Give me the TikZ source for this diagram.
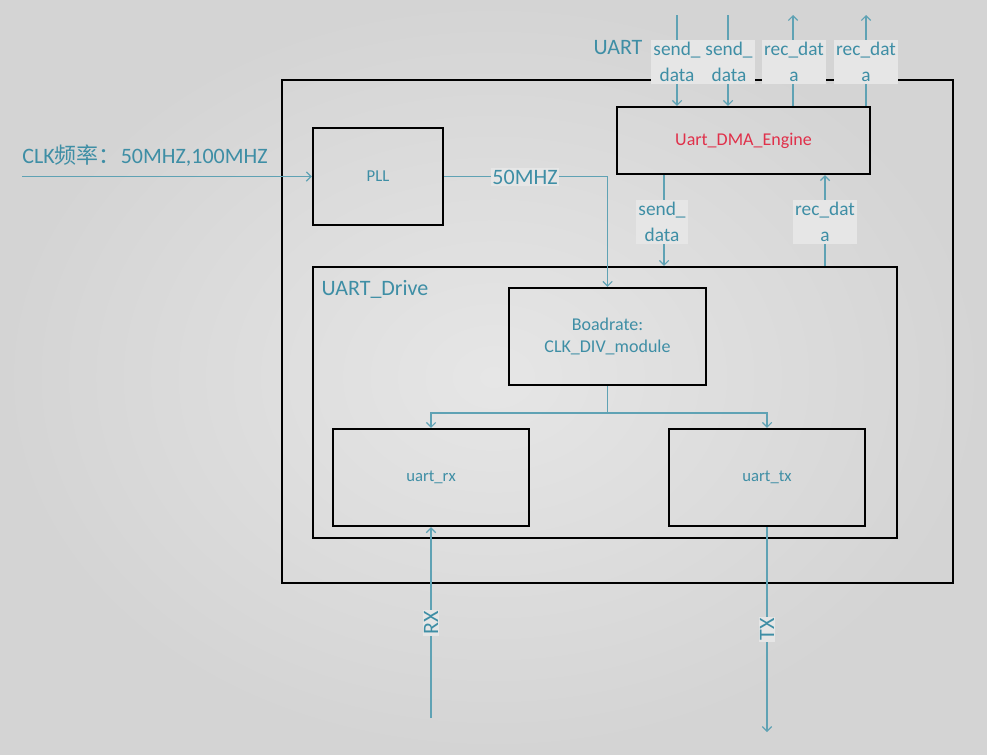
\documentclass[tikz,border=0pt]{standalone}
\usepackage{fontspec}
\setmainfont{Carlito}
\newfontfamily\cjkfont{Noto Sans CJK SC}
\usetikzlibrary{arrows.meta}
\definecolor{bgin}{HTML}{E6E6E6}
\definecolor{bgout}{HTML}{D4D4D4}
\definecolor{tealtxt}{HTML}{3E8EA5}
\definecolor{tealline}{HTML}{5FA2B4}
\definecolor{labbg}{HTML}{E6E6E6}
\definecolor{redtxt}{HTML}{E0304A}
\begin{document}
\begin{tikzpicture}[x=0.75pt,y=-0.75pt,
  box/.style={draw=black, line width=1.6pt, fill=none, inner sep=0pt, text=tealtxt, align=center},
  conn/.style={draw=tealline, line width=0.9pt},
  arr/.style={conn, -{Straight Barb[length=3.5pt,width=7pt]}},
  lab/.style={fill=labbg, text=tealtxt, font=\fontsize{14.5}{19.5}\selectfont, align=center, inner sep=1.5pt},
  bigtxt/.style={text=tealtxt, font=\fontsize{16.5}{19}\selectfont, inner sep=0pt}]
\useasboundingbox (0,0) rectangle (987,754);
\shade[inner color=bgin, outer color=bgout] (0,0) rectangle (987,754);

% boxes
\node[box, minimum width=503.25pt, minimum height=377.25pt] (outer) at (617.5,331.5) {};
\node[box, minimum width=97.5pt, minimum height=72.75pt, font=\fontsize{12.5}{14}\selectfont] (pll) at (378,176.5) {PLL};
\node[box, minimum width=189.75pt, minimum height=50.25pt, text=redtxt, font=\fontsize{13.5}{15}\selectfont] (dma) at (743.5,140.5) {Uart\_DMA\_Engine};
\node[box, minimum width=438pt, minimum height=203.25pt] (drive) at (605,402.5) {};
\node[box, minimum width=147.75pt, minimum height=72.75pt, font=\fontsize{13.5}{16.5}\selectfont] (boad) at (607.5,336.5) {Boadrate:\\CLK\_DIV\_module};
\node[box, minimum width=147pt, minimum height=72.75pt, font=\fontsize{12.5}{14}\selectfont] (rx) at (431,477.5) {uart\_rx};
\node[box, minimum width=147pt, minimum height=72.75pt, font=\fontsize{12.5}{14}\selectfont] (tx) at (767,477.5) {uart\_tx};

\node[bigtxt] (drivelab) at (375,289) {UART\_Drive};
\node[bigtxt] (uartlab) at (618,48) {UART};

% clock input
\coordinate (clkin) at (22,176.5);
\draw[arr] (clkin) -- (pll.west);
\node[bigtxt] (clklab) at (145,156) {CLK{\cjkfont 频率：}50MHZ,100MHZ};

% PLL to baud-rate divider
\coordinate (corner) at (607.5,176.5);
\draw[arr] (pll.east) -- (corner) -- (boad.north);
\node[lab, font=\fontsize{16.5}{19}\selectfont, inner sep=1pt] (mhz) at (525,177) {50MHZ};

% divider to rx / tx
\coordinate (split) at (607.5,413);
\draw[conn] (boad.south) -- (split);
\draw[arr] (split) -| (rx.north);
\draw[arr] (split) -| (tx.north);

% RX / TX pins
\coordinate (rxin) at (431,718);
\coordinate (txout) at (767,732);
\draw[arr] (rxin) -- node[lab, font=\fontsize{16.5}{19}\selectfont, rotate=90, inner sep=1pt] (rxlab) {RX} (rx.south);
\draw[arr] (tx.south) -- node[lab, font=\fontsize{16.5}{19}\selectfont, rotate=90, inner sep=1pt] (txlab) {TX} (txout);

% DMA <-> drive
\coordinate (sx) at (664,0);
\coordinate (rx2) at (825,0);
\draw[arr] (dma.south -| sx) -- (drive.north -| sx);
\draw[arr] (drive.north -| rx2) -- (dma.south -| rx2);
\node[lab] (sdlab) at (662,222) {send\_\\data};
\node[lab] (rdlab) at (825,222) {rec\_dat\\a};

% top ports
\coordinate (t1) at (677,15);
\coordinate (t2) at (728,15);
\coordinate (t3) at (793,15);
\coordinate (t4) at (866,15);
\draw[arr] (t1) -- (t1 |- dma.north);
\draw[arr] (t2) -- (t2 |- dma.north);
\draw[arr] (t3 |- dma.north) -- (t3);
\draw[arr] (t4 |- dma.north) -- (t4);
\node[lab] (l1) at (677,62) {send\_\\data};
\node[lab] (l2) at (729,62) {send\_\\data};
\node[lab] (l3) at (794,62) {rec\_dat\\a};
\node[lab] (l4) at (866,62) {rec\_dat\\a};
\end{tikzpicture}
\end{document}
